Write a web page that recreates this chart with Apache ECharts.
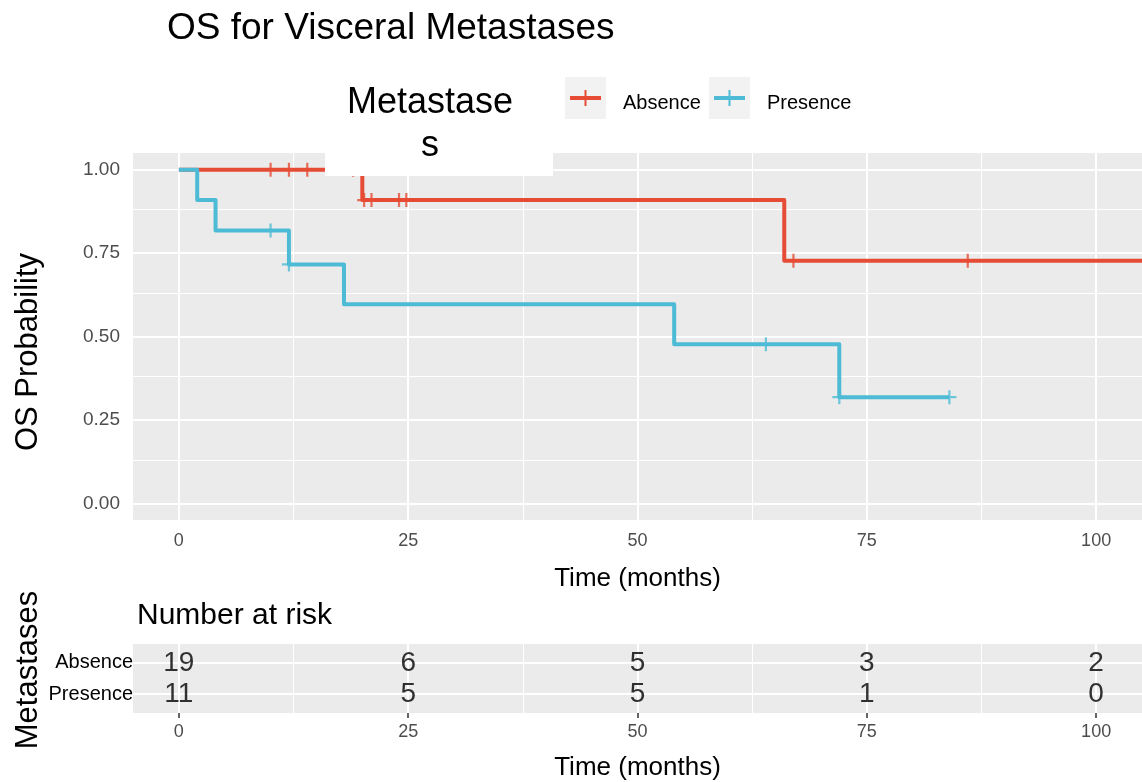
<!DOCTYPE html>
<html>
<head>
<meta charset="utf-8">
<script src="https://cdn.jsdelivr.net/npm/echarts@6/dist/echarts.min.js"></script>
<style>
  html, body { margin: 0; padding: 0; background: #ffffff; }
  #chart { width: 1142px; height: 782px; }
</style>
</head>
<body>
<div id="chart"></div>
<script>
// Groups
const groups = ['Absence', 'Presence'];
const groupColors = ['#E64B35', '#4DBBD5'];

// Kaplan–Meier step points: [time (months), survival probability]
const absenceSteps = [[0, 1], [20, 0.909], [66, 0.727], [105, 0.727]];
const presenceSteps = [[0, 1], [2, 0.909], [4, 0.818], [12, 0.716], [18, 0.597], [54, 0.477], [72, 0.318], [84, 0.318]];

// Censored observations
const absenceCensored = [[10, 1], [12, 1], [14, 1], [19, 1], [20.2, 0.909], [21, 0.909], [24, 0.909], [24.8, 0.909], [67, 0.727], [86, 0.727]];
const presenceCensored = [[10, 0.818], [12, 0.716], [64, 0.477], [72, 0.318], [84, 0.318]];

// Number at risk table
const riskTimes = [0, 25, 50, 75, 100];
const absenceAtRisk = [19, 6, 5, 3, 2];
const presenceAtRisk = [11, 5, 5, 1, 0];

// Axis ticks
const timeTicks = [0, 25, 50, 75, 100];
const timeMinor = [12.5, 37.5, 62.5, 87.5];
const probTicks = [0, 0.25, 0.5, 0.75, 1];
const probMinor = [0.125, 0.375, 0.625, 0.875];

const FONT = 'Liberation Sans, Arial, sans-serif';
const PANEL = '#EBEBEB';
const TICK_COLOR = '#333333';
const LABEL_GREY = '#4D4D4D';

// Plot panel geometry
const panelLeft = 133;
const panelWidth = 1014;

function gridLines(values, axisKey, width) {
  return values.map(v => ({ [axisKey]: v, lineStyle: { color: '#ffffff', width: width, type: 'solid' } }));
}

function gridLineSeries(xi, yi, data) {
  return {
    type: 'line', xAxisIndex: xi, yAxisIndex: yi, data: [], z: 1, silent: true,
    markLine: {
      z: 1, silent: true, symbol: ['none', 'none'], label: { show: false }, animation: false,
      data: data
    }
  };
}

const crossPath = 'path://M5,0L5,10M0,5L10,5';

const chart = echarts.init(document.getElementById('chart'), null, { renderer: 'canvas' });

const option = {
  animation: false,
  backgroundColor: '#ffffff',
  textStyle: { fontFamily: FONT },
  title: [
    {
      text: 'OS for Visceral Metastases',
      left: 162, top: 5,
      textStyle: { fontFamily: FONT, fontSize: 37, fontWeight: 'normal', color: '#000000' }
    },
    {
      text: 'Number at risk',
      left: 132, top: 596,
      textStyle: { fontFamily: FONT, fontSize: 30, fontWeight: 'normal', color: '#000000' }
    }
  ],
  grid: [
    { left: panelLeft, top: 153, width: panelWidth, height: 367, show: true, backgroundColor: PANEL, borderWidth: 0 },
    { left: panelLeft, top: 644, width: panelWidth, height: 70, show: true, backgroundColor: PANEL, borderWidth: 0 }
  ],
  xAxis: [
    {
      type: 'value', gridIndex: 0, min: -5, max: 105,
      axisLine: { show: false },
      axisTick: { show: true, customValues: timeTicks, length: 5, lineStyle: { color: TICK_COLOR, width: 1.5 } },
      axisLabel: { customValues: timeTicks, color: LABEL_GREY, fontSize: 18, margin: 12, fontFamily: FONT },
      splitLine: { show: false },
      name: 'Time (months)', nameLocation: 'middle', nameGap: 46,
      nameTextStyle: { fontSize: 26, color: '#000000', fontFamily: FONT }
    },
    {
      type: 'value', gridIndex: 1, min: -5, max: 105,
      axisLine: { show: false },
      axisTick: { show: true, customValues: timeTicks, length: 5, lineStyle: { color: TICK_COLOR, width: 1.5 } },
      axisLabel: { customValues: timeTicks, color: LABEL_GREY, fontSize: 18, margin: 10, fontFamily: FONT },
      splitLine: { show: false },
      name: 'Time (months)', nameLocation: 'middle', nameGap: 42,
      nameTextStyle: { fontSize: 26, color: '#000000', fontFamily: FONT }
    }
  ],
  yAxis: [
    {
      type: 'value', gridIndex: 0, min: -0.05, max: 1.05,
      axisLine: { show: false },
      axisTick: { show: true, customValues: probTicks, length: 5, lineStyle: { color: TICK_COLOR, width: 1.5 } },
      axisLabel: { customValues: probTicks, color: LABEL_GREY, fontSize: 19, margin: 13, fontFamily: FONT,
        formatter: v => v.toFixed(2) },
      splitLine: { show: false }
    },
    {
      type: 'value', gridIndex: 1, min: 0.4, max: 2.6,
      axisLine: { show: false },
      axisTick: { show: true, customValues: [1, 2], length: 5, lineStyle: { color: TICK_COLOR, width: 1.5 } },
      axisLabel: { customValues: [1, 2], color: '#000000', fontSize: 20, margin: 0, fontFamily: FONT,
        formatter: v => (v === 2 ? groups[0] : groups[1]) },
      splitLine: { show: false }
    }
  ],
  series: [
    // panel grid lines
    gridLineSeries(0, 0, [].concat(
      gridLines(timeMinor, 'xAxis', 1), gridLines(probMinor, 'yAxis', 1),
      gridLines(timeTicks, 'xAxis', 2), gridLines(probTicks, 'yAxis', 2)
    )),
    gridLineSeries(1, 1, [].concat(
      gridLines(timeMinor, 'xAxis', 1),
      gridLines(timeTicks, 'xAxis', 2), gridLines([1, 2], 'yAxis', 2)
    )),
    {
      name: groups[0], type: 'line', xAxisIndex: 0, yAxisIndex: 0,
      data: absenceSteps, step: 'end', showSymbol: false, z: 10,
      lineStyle: { color: groupColors[0], width: 4, join: 'round' }
    },
    {
      name: groups[0] + ' censored', type: 'scatter', xAxisIndex: 0, yAxisIndex: 0,
      data: absenceCensored, symbol: crossPath, symbolSize: 14, z: 11,
      itemStyle: { color: 'transparent', borderColor: groupColors[0], borderWidth: 2.2 }
    },
    {
      name: groups[1], type: 'line', xAxisIndex: 0, yAxisIndex: 0,
      data: presenceSteps, step: 'end', showSymbol: false, z: 12,
      lineStyle: { color: groupColors[1], width: 4, join: 'round' }
    },
    {
      name: groups[1] + ' censored', type: 'scatter', xAxisIndex: 0, yAxisIndex: 0,
      data: presenceCensored, symbol: crossPath, symbolSize: 14, z: 13,
      itemStyle: { color: 'transparent', borderColor: groupColors[1], borderWidth: 2.2 }
    },
    // numbers at risk
    {
      type: 'scatter', xAxisIndex: 1, yAxisIndex: 1, z: 10, symbolSize: 1,
      itemStyle: { color: 'transparent' },
      data: riskTimes.map((t, i) => [t, 2, absenceAtRisk[i]])
        .concat(riskTimes.map((t, i) => [t, 1, presenceAtRisk[i]])),
      label: {
        show: true, position: 'inside', formatter: p => String(p.value[2]),
        fontSize: 28, color: '#000000', fontFamily: FONT
      }
    }
  ],
  graphic: [
    // axis titles (rotated)
    { type: 'text', z: 50, x: 28, y: 352, rotation: Math.PI / 2,
      style: { x: 0, y: 0, text: 'OS Probability', fontSize: 31, fontFamily: FONT, fill: '#000000', align: 'center', verticalAlign: 'middle' } },
    { type: 'text', z: 50, x: 28, y: 670, rotation: Math.PI / 2,
      style: { x: 0, y: 0, text: 'Metastases', fontSize: 31, fontFamily: FONT, fill: '#000000', align: 'center', verticalAlign: 'middle' } },
    // legend: title box
    { type: 'rect', z: 100, shape: { x: 325, y: 60, width: 228, height: 116 }, style: { fill: '#ffffff' } },
    { type: 'text', z: 101, style: { x: 430, y: 85, text: 'Metastase', fontSize: 36, fontFamily: FONT, fill: '#000000', align: 'center', verticalAlign: 'top' } },
    { type: 'text', z: 101, style: { x: 430, y: 128, text: 's', fontSize: 36, fontFamily: FONT, fill: '#000000', align: 'center', verticalAlign: 'top' } },
    // legend: keys
    { type: 'rect', z: 100, shape: { x: 565, y: 77, width: 41, height: 42 }, style: { fill: '#F2F2F2' } },
    { type: 'line', z: 101, shape: { x1: 570, y1: 98, x2: 601, y2: 98 }, style: { stroke: groupColors[0], lineWidth: 4 } },
    { type: 'line', z: 101, shape: { x1: 585.5, y1: 90, x2: 585.5, y2: 106 }, style: { stroke: groupColors[0], lineWidth: 2 } },
    { type: 'text', z: 101, style: { x: 623, y: 103, text: groups[0], fontSize: 20, fontFamily: FONT, fill: '#000000', align: 'left', verticalAlign: 'middle' } },
    { type: 'rect', z: 100, shape: { x: 709, y: 77, width: 41, height: 42 }, style: { fill: '#F2F2F2' } },
    { type: 'line', z: 101, shape: { x1: 714, y1: 98, x2: 745, y2: 98 }, style: { stroke: groupColors[1], lineWidth: 4 } },
    { type: 'line', z: 101, shape: { x1: 729.5, y1: 90, x2: 729.5, y2: 106 }, style: { stroke: groupColors[1], lineWidth: 2 } },
    { type: 'text', z: 101, style: { x: 767, y: 103, text: groups[1], fontSize: 20, fontFamily: FONT, fill: '#000000', align: 'left', verticalAlign: 'middle' } }
  ]
};

chart.setOption(option);
</script>
</body>
</html>
